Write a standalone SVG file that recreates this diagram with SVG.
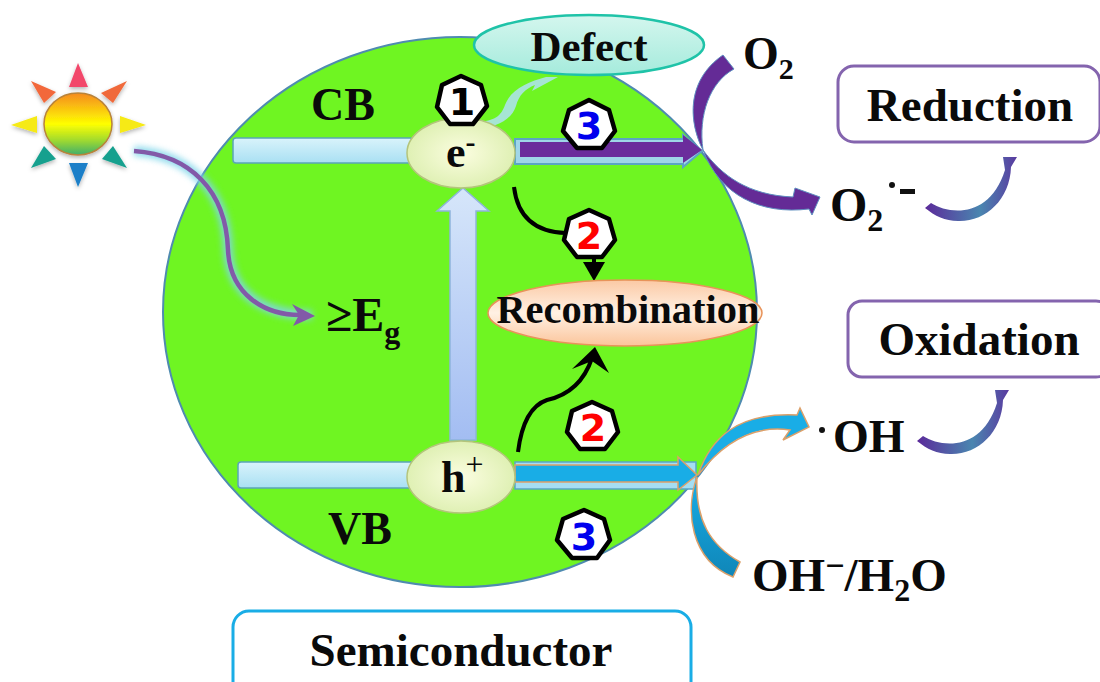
<svg xmlns="http://www.w3.org/2000/svg" width="1100" height="682" viewBox="0 0 1100 682">
<style>
.t{font-family:"Liberation Serif","Times New Roman",serif;font-weight:bold;fill:#0a0a0a}
.n{font-family:"DejaVu Sans",sans-serif;font-weight:bold;font-size:38px;text-anchor:middle}
.hep{fill:#fff;stroke:#000;stroke-width:4.5;stroke-linejoin:round}
.box{fill:#fff;stroke-width:3}
.blk{fill:none;stroke:#000;stroke-width:4}
.pur{fill:#642b96;stroke:#5f8fc0;stroke-width:1}
.sky{fill:#19ade6;stroke:#dca06a;stroke-width:1.5}
</style>
<defs>
<linearGradient id="sun" x1="0" y1="0" x2="0" y2="1"><stop offset="0" stop-color="#f58a1f"/><stop offset=".5" stop-color="#ffff00"/><stop offset=".75" stop-color="#a5dc2c"/><stop offset="1" stop-color="#3fae6c"/></linearGradient>
<linearGradient id="bar" x1="0" y1="0" x2="0" y2="1"><stop offset="0" stop-color="#d9f3fb"/><stop offset="1" stop-color="#a9e0f3"/></linearGradient>
<linearGradient id="up" x1="0" y1="0" x2="0" y2="1"><stop offset="0" stop-color="#d6e6fa"/><stop offset="1" stop-color="#a3bdf2"/></linearGradient>
<radialGradient id="egg"><stop offset="0" stop-color="#fbfde0"/><stop offset="1" stop-color="#dff0b4"/></radialGradient>
<linearGradient id="rec" x1="0" y1="0" x2="0" y2="1"><stop offset="0" stop-color="#fbc9a4"/><stop offset=".5" stop-color="#fff1e4"/><stop offset="1" stop-color="#fbc49a"/></linearGradient>
<linearGradient id="def" x1="0" y1="0" x2="0" y2="1"><stop offset="0" stop-color="#d4f6ee"/><stop offset="1" stop-color="#a5ebdc"/></linearGradient>
<linearGradient id="curl" x1="0" y1="0" x2="1" y2="0"><stop offset="0" stop-color="#5b2a9a"/><stop offset=".6" stop-color="#4a86b0"/><stop offset="1" stop-color="#5a3aa0"/></linearGradient>
<linearGradient id="blueC" x1="0" y1="0" x2="0" y2="1"><stop offset="0" stop-color="#19ade6"/><stop offset="1" stop-color="#0f86b8"/></linearGradient>
<filter id="glow" x="-20%" y="-20%" width="140%" height="140%"><feGaussianBlur stdDeviation="3"/></filter>
<filter id="soft" x="-20%" y="-20%" width="140%" height="140%"><feDropShadow dx="0" dy="2" stdDeviation="2" flood-color="#000" flood-opacity=".3"/></filter>
<path id="curve" d="M925 208L931 203C950 215 990 218 1005 170L1003 157L1017 157L1011 167C1010 200 985 222 958 221C945 221 935 216 925 208Z" fill="url(#curl)"/>
</defs>

<g id="semiconductor-circle"><ellipse cx="460" cy="312" rx="297" ry="275" fill="#6ff522" stroke="#4f8bb0" stroke-width="2"/></g>

<g id="sun-icon" filter="url(#soft)">
<ellipse cx="78" cy="124" rx="34" ry="31" fill="url(#sun)" stroke="#b8833a" stroke-width="1.5"/>
<polygon points="78,63 88,87 69,87" fill="#f2476a"/>
<polygon points="31,81 56,92 44,103" fill="#f2683a"/>
<polygon points="127,81 101,93 113,103" fill="#f0693a"/>
<polygon points="11,125 37,116 37,133" fill="#f6ea12"/>
<polygon points="146,125 120,116 120,133" fill="#f6ea12"/>
<polygon points="31,168 44,146 56,159" fill="#14a08e"/>
<polygon points="127,168 113,146 102,159" fill="#14a08e"/>
<polygon points="78,187 69,163 88,163" fill="#1a7fc8"/>
</g>

<g id="band-cb"><rect x="233" y="138" width="180" height="25" rx="3" fill="url(#bar)" stroke="#5ba5b8" stroke-width="1.5"/></g>
<g id="band-vb"><rect x="238" y="462" width="180" height="26" rx="3" fill="url(#bar)" stroke="#5ba5b8" stroke-width="1.5"/></g>

<g id="connectors">
<path d="M134 151C190 155 226 190 228 250C230 295 265 315 312 315" fill="none" stroke="#7fd6ea" stroke-width="10" opacity=".85" filter="url(#glow)"/>
<path d="M134 151C190 155 226 190 228 250C230 295 265 315 300 315" fill="none" stroke="#8259a8" stroke-width="4.5"/>
<path d="M292 304L315 316L293 326L299 315Z" fill="#8259a8"/>
<path d="M450 440V211H437L463 188L489 211H476V440Z" fill="url(#up)" stroke="#8fb4dc" stroke-width="1.5"/>
<path d="M515 139H683V135L702 151L683 167V164H515Z" fill="#9fd6e8" stroke="#5ba5c4" stroke-width="2"/>
<path d="M520 142H683V135L702 150L683 163V157H520Z" fill="#6b2c9c"/>
<path d="M515 462H696V489H515Z" fill="#a5def2" stroke="#5ba5c4" stroke-width="1.5"/>
<path d="M515 465H678V457L697 475L678 490V482H515Z" class="sky"/>
<path d="M477 122C495 121 501 116 505 105C511 89 528 82 546 77L558 77L532 91L535 85C525 89 519 95 516 106C511 121 495 128 477 128Z" fill="#a6e5d4"/>
<path d="M514 187C517 212 530 232 566 233" class="blk"/>
<path d="M594 252V267" class="blk"/>
<path d="M583 262H605L594 281Z" fill="#000"/>
<path d="M518 452C522 420 532 405 547 400C565 396 583 385 592 358" class="blk"/>
<path d="M572 369L595 347L609 373L592 361Z" fill="#000"/>
<path d="M723 55L734 69C710 82 698 115 703 150C690 125 684 82 723 55Z" class="pur"/>
<path d="M703 150C722 176 748 195 793 197L795 188L820 197L812 215L809 209C760 215 720 195 703 150Z" class="pur"/>
<path d="M698 475C710 440 735 412 797 415L800 408L809 427L783 440L790 430C755 425 725 440 698 475Z" class="sky"/>
<path d="M697 477C685 510 690 560 733 577L740 562C710 545 695 520 697 477Z" fill="url(#blueC)" stroke="#dca06a" stroke-width="1.5"/>
<use href="#curve"/>
<use href="#curve" x="-8" y="233"/>
</g>

<g id="defect"><ellipse cx="589" cy="45" rx="115" ry="30" fill="url(#def)" stroke="#1fc3a8" stroke-width="2.5"/><text class="t" x="589" y="61" font-size="43" text-anchor="middle">Defect</text></g>
<g id="electron"><ellipse cx="461" cy="153" rx="54" ry="35" fill="url(#egg)" stroke="#b4c47c" stroke-width="1.5"/><text class="t" x="446" y="167" font-size="44">e<tspan dy="-15" font-size="30">-</tspan></text></g>
<g id="hole"><ellipse cx="461" cy="477" rx="54" ry="36" fill="url(#egg)" stroke="#b4c47c" stroke-width="1.5"/><text class="t" x="441" y="492" font-size="44">h<tspan dy="-17" font-size="32" font-weight="normal">+</tspan></text></g>
<g id="recombination"><ellipse cx="625" cy="313" rx="137" ry="33" fill="url(#rec)" stroke="#e8935a" stroke-width="1.5"/><text class="t" x="628" y="323" font-size="40.5" text-anchor="middle">Recombination</text></g>

<g id="badge-1"><polygon class="hep" points="461,76 481,85 487,106 473,124 450,124 437,107 442,85"/><text class="n" x="462" y="115">1</text></g>
<g id="badge-3a"><polygon class="hep" points="589,100 609,110 615,131 602,148 577,148 563,131 569,110"/><text class="n" x="589" y="139" fill="#0000ee">3</text></g>
<g id="badge-2a"><polygon class="hep" points="589,210 609,219 615,240 602,257 577,257 564,240 569,219"/><text class="n" x="589" y="249" fill="#f00">2</text></g>
<g id="badge-2b"><polygon class="hep" points="592,402 612,411 618,432 605,449 580,449 567,432 572,411"/><text class="n" x="593" y="441" fill="#f00">2</text></g>
<g id="badge-3b"><polygon class="hep" points="584,510 604,519 610,540 597,558 572,558 557,540 563,519"/><text class="n" x="584" y="550" fill="#0000ee">3</text></g>

<g id="label-cb"><text class="t" x="311" y="120" font-size="46">CB</text></g>
<g id="label-vb"><text class="t" x="328" y="544" font-size="46">VB</text></g>
<g id="label-eg"><text class="t" x="326" y="331" font-size="48">≥E<tspan dy="12" font-size="32">g</tspan></text></g>
<g id="label-o2"><text class="t" x="743" y="69" font-size="46">O<tspan dy="10" font-size="30">2</tspan></text></g>
<g id="label-o2rad"><text class="t" x="830" y="221" font-size="48">O<tspan dy="10" font-size="32">2</tspan></text><circle cx="892" cy="185" r="3" fill="#111"/><rect x="900" y="189" width="15" height="5" fill="#111"/></g>
<g id="label-oh"><circle cx="822" cy="430" r="3" fill="#111"/><text class="t" x="833" y="452" font-size="46">OH</text></g>
<g id="label-ohw"><text class="t" x="752" y="591" font-size="47">OH<tspan dy="-14" font-size="34">−</tspan><tspan dy="14">/H</tspan><tspan dy="10" font-size="32">2</tspan><tspan dy="-10">O</tspan></text></g>

<g id="reduction"><rect class="box" x="838" y="66" width="262" height="76" rx="16" stroke="#8464ae"/><text class="t" x="970" y="121" font-size="47" text-anchor="middle">Reduction</text></g>
<g id="oxidation"><rect class="box" x="848" y="301" width="262" height="76" rx="14" stroke="#8464ae"/><text class="t" x="979" y="355" font-size="47" text-anchor="middle">Oxidation</text></g>
<g id="semiconductor"><rect class="box" x="233" y="611" width="458" height="90" rx="16" stroke="#19ade6" stroke-width="4"/><text class="t" x="461" y="666" font-size="47" text-anchor="middle">Semiconductor</text></g>
</svg>
